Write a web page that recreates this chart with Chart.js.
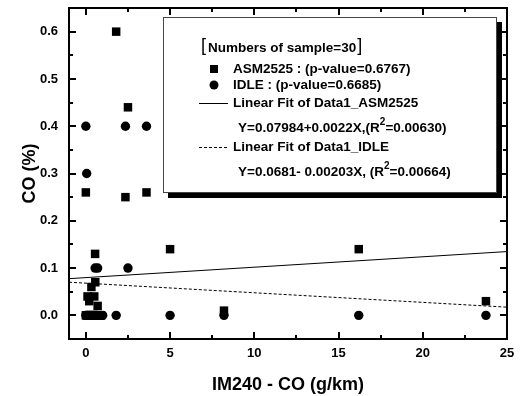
<!DOCTYPE html>
<html>
<head>
<meta charset="utf-8">
<script src="https://cdn.jsdelivr.net/npm/chart.js@4"></script>
<style>
  html, body { margin: 0; padding: 0; background: #fff; overflow: hidden; }
  #wrap { width: 521px; height: 396px; position: relative; }
</style>
</head>
<body>
<div id="wrap"><canvas id="co"></canvas></div>
<script>
/* =================================================
  Data
==================================================== */

const asmX = [1.8, 2.5, 0.0, 2.35, 3.6, 5.0, 0.55, 0.56, 0.33, 0.1, 0.5, 0.2, 0.7, 8.2, 16.2, 23.75,
  0.0, 0.1, 0.2, 0.3, 0.4, 0.5, 0.6, 0.7, 0.8, 0.9, 0.05, 0.25, 0.45, 0.65];
const asmY = [0.60, 0.44, 0.26, 0.25, 0.26, 0.14, 0.13, 0.07, 0.06, 0.04, 0.04, 0.03, 0.02, 0.01, 0.14, 0.03,
  0, 0, 0, 0, 0, 0, 0, 0, 0, 0, 0, 0, 0, 0];

const idleX = [0.0, 2.35, 3.6, 0.05, 0.55, 0.7, 2.5, 1.8, 5.0, 8.2, 16.2, 23.75,
  0.0, 0.05, 0.1, 0.15, 0.2, 0.25, 0.3, 0.35, 0.4, 0.45, 0.5, 0.55, 0.6, 0.65, 0.7, 0.8, 0.9, 1.0];
const idleY = [0.40, 0.40, 0.40, 0.30, 0.10, 0.10, 0.10, 0, 0, 0, 0, 0,
  0, 0, 0, 0, 0, 0, 0, 0, 0, 0, 0, 0, 0, 0, 0, 0, 0, 0];

// fitted lines, end points at the axis limits
const fitX = [-1, 25];
const asmFitY = [0.0776, 0.1349];
const idleFitY = [0.0701, 0.0173];

const xTicks = [0, 5, 10, 15, 20, 25];
const yTicks = [0.0, 0.1, 0.2, 0.3, 0.4, 0.5, 0.6];

const legendLines = [
  'Numbers of sample=30',
  'ASM2525 : (p-value=0.6767)',
  'IDLE : (p-value=0.6685)',
  'Linear Fit of Data1_ASM2525',
  'Linear Fit of Data1_IDLE'
];

const zip = (xs, ys) => xs.map((x, i) => ({ x: x, y: ys[i] }));

/* =================================================
  Legend box, frame and inward ticks
==================================================== */

const FONT = 'Liberation Sans, Arial, sans-serif';
const LFONT = 'bold 13.5px ' + FONT;

function drawEq(ctx, x, y, parts) {
  // parts: [text, superscript, text]
  ctx.font = LFONT;
  ctx.fillText(parts[0], x, y);
  x += ctx.measureText(parts[0]).width;
  ctx.font = 'bold 10px ' + FONT;
  ctx.fillText(parts[1], x, y - 6);
  x += ctx.measureText(parts[1]).width;
  ctx.font = LFONT;
  ctx.fillText(parts[2], x, y);
}

const legendPlugin = {
  id: 'legendBox',
  afterDatasetsDraw(chart) {
    const ctx = chart.ctx;
    ctx.save();
    const bx = 163, by = 17, bw = 334, bh = 176;
    ctx.fillStyle = '#000';
    ctx.fillRect(bx + 5, by + bh, bw, 5);
    ctx.fillRect(bx + bw, by + 5, 5, bh);
    ctx.fillStyle = '#fff';
    ctx.fillRect(bx, by, bw, bh);
    ctx.fillStyle = '#444';
    ctx.fillRect(bx, by, bw, 1);
    ctx.fillRect(bx, by + bh - 1, bw, 1);
    ctx.fillRect(bx, by, 1, bh);
    ctx.fillRect(bx + bw - 1, by, 1, bh);

    ctx.fillStyle = '#000';
    ctx.textBaseline = 'middle';
    ctx.font = '18px ' + FONT;
    ctx.fillText('[', 201, 46);
    ctx.font = LFONT;
    ctx.fillText(legendLines[0], 208, 48);
    const w0 = ctx.measureText(legendLines[0]).width;
    ctx.font = '18px ' + FONT;
    ctx.fillText(']', 209 + w0, 46);

    ctx.font = LFONT;
    ctx.fillRect(210, 65, 8, 8);
    ctx.fillText(legendLines[1], 233, 69);
    ctx.beginPath();
    ctx.arc(214, 85, 4.5, 0, Math.PI * 2);
    ctx.fill();
    ctx.fillText(legendLines[2], 233, 85);

    ctx.fillRect(199, 103, 29, 1);
    ctx.fillText(legendLines[3], 233, 103);
    drawEq(ctx, 238, 128, ['Y=0.07984+0.0022X,(R', '2', '=0.00630)']);

    for (let dx = 199; dx < 228; dx += 5) {
      ctx.fillRect(dx, 147, 3, 1);
    }
    ctx.fillText(legendLines[4], 233, 147);
    drawEq(ctx, 238, 172, ['Y=0.0681- 0.00203X, (R', '2', '=0.00664)']);
    ctx.restore();
  }
};

const framePlugin = {
  id: 'frame',
  afterDraw(chart) {
    const ctx = chart.ctx;
    const xs = chart.scales.x;
    const ys = chart.scales.y;
    const L = Math.round(xs.getPixelForValue(-1));
    const R = Math.round(xs.getPixelForValue(25));
    const T = Math.round(ys.getPixelForValue(0.65));
    const B = Math.round(ys.getPixelForValue(-0.05));
    ctx.save();
    ctx.fillStyle = '#000';
    ctx.fillRect(L - 1, T - 1, R - L + 2, 2);
    ctx.fillRect(L - 1, B - 1, R - L + 2, 2);
    ctx.fillRect(L - 1, T - 1, 2, B - T + 2);
    ctx.fillRect(R - 1, T - 1, 2, B - T + 2);

    // inward ticks on all four sides
    for (let i = 0; i <= 10; i++) {
      const px = Math.round(xs.getPixelForValue(i * 2.5));
      const len = (i % 2 === 0) ? 7 : 4;
      ctx.fillRect(px - 1, B - len, 2, len);
      ctx.fillRect(px - 1, T, 2, len);
    }
    for (let i = 0; i <= 12; i++) {
      const py = Math.round(ys.getPixelForValue(i * 0.05));
      const len = (i % 2 === 0) ? 7 : 4;
      ctx.fillRect(L, py - 1, len, 2);
      ctx.fillRect(R - len, py - 1, len, 2);
    }
    ctx.restore();
  }
};

/* =================================================
  Scatter chart
==================================================== */

const co = document.getElementById('co');

const coData = {
  datasets: [{
    type: 'line',
    data: zip(fitX, asmFitY),
    borderColor: '#000',
    borderWidth: 1,
    pointRadius: 0,
    fill: false
  }, {
    type: 'line',
    data: zip(fitX, idleFitY),
    borderColor: '#000',
    borderWidth: 1,
    borderDash: [3, 2],
    pointRadius: 0,
    fill: false
  }, {
    data: zip(idleX, idleY),
    pointStyle: 'circle',
    pointRadius: 4.7,
    backgroundColor: '#000',
    borderWidth: 0
  }, {
    data: zip(asmX, asmY),
    pointStyle: 'rect',
    pointRadius: 6,
    backgroundColor: '#000',
    borderWidth: 0
  }]
};

const coOptions = {
  responsive: true,
  maintainAspectRatio: false,
  animation: false,
  layout: {
    padding: { left: 0, top: 8, right: 14, bottom: 0 }
  },
  scales: {
    x: {
      type: 'linear',
      min: -1,
      max: 25,
      afterBuildTicks: s => { s.ticks = xTicks.map(v => ({ value: v })); },
      afterFit: s => { s.height = 57; s.paddingLeft = 0; s.paddingRight = 0; },
      grid: { display: false, drawTicks: false },
      border: { display: false },
      ticks: {
        padding: 7,
        color: '#000',
        font: { family: FONT, size: 13, weight: 'bold' }
      },
      title: {
        display: true,
        text: 'IM240 - CO (g/km)',
        color: '#000',
        font: { family: FONT, size: 18, weight: 'bold' },
        padding: { top: 8, bottom: 0 }
      }
    },
    y: {
      type: 'linear',
      min: -0.05,
      max: 0.65,
      afterBuildTicks: s => { s.ticks = yTicks.map(v => ({ value: v })); },
      afterFit: s => { s.width = 69; s.paddingTop = 0; s.paddingBottom = 0; },
      grid: { display: false, drawTicks: false },
      border: { display: false },
      ticks: {
        padding: 11,
        color: '#000',
        callback: v => v.toFixed(1),
        font: { family: FONT, size: 13, weight: 'bold' }
      },
      title: {
        display: true,
        text: 'CO (%)',
        color: '#000',
        font: { family: FONT, size: 18, weight: 'bold' },
        padding: { top: 19, bottom: 0 }
      }
    }
  },
  plugins: {
    legend: { display: false },
    tooltip: { enabled: false }
  }
};

const coChart = new Chart(co, {
  type: 'scatter',
  data: coData,
  options: coOptions,
  plugins: [legendPlugin, framePlugin]
});
</script>
</body>
</html>
